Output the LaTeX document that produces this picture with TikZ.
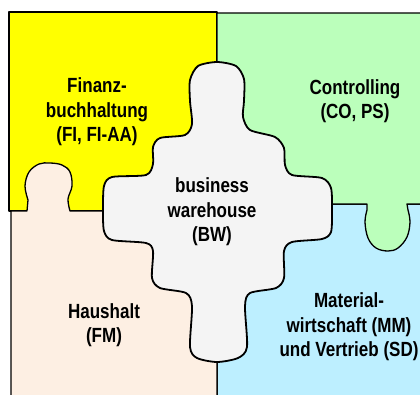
\documentclass[tikz,border=0pt]{standalone}
\usepackage{fontspec}
\newfontfamily\piecefont{Liberation Sans Bold}[FakeStretch=0.83]
\usepackage{tikz}
\definecolor{fibg}{RGB}{255,255,0}
\definecolor{cobg}{RGB}{187,255,187}
\definecolor{fmbg}{RGB}{253,239,227}
\definecolor{mmbg}{RGB}{189,239,255}
\definecolor{bwbg}{RGB}{244,244,244}
\tikzstyle{piece}=[draw=black, line width=1.3pt, line join=round]
\tikzstyle{bwpiece}=[draw=black, line width=1.8pt, fill=bwbg, line join=round]
\tikzstyle{modtext}=[align=center, text=black, inner sep=0pt,
  font=\piecefont\fontsize{20.5}{24.5}\selectfont]

\begin{document}
\begin{tikzpicture}[x=1pt, y=-1pt]
		   \useasboundingbox (0,0) rectangle (420,394);
		   \clip (0,0) rectangle (420,394);
		   \begin{scope}
			   % the four module pieces
			   \path[piece, fill=fibg] (9,12) rectangle (217,211);
			   \path[piece, fill=mmbg] (217,204) rectangle (440,420);
			   \path[piece, fill=fmbg] (11,420) -- (11,211) -- (27,211)
			     -- plot[smooth, tension=0.6] coordinates {(28,200) (25,186) (29,172) (39,164) (50,163) (62,165) (70,172) (72,186) (68,199) (70,211)}
			     -- (217,211) -- (217,420);
			   \path[piece, fill=cobg] (217,13) -- (440,13) -- (440,204) -- (407,204)
			     -- plot[smooth, tension=0.6] coordinates {(408,210) (410,222) (407,237) (398,248) (388,251) (376,248) (368,238) (365,222) (367,210)}
			     -- (367,204) -- (217,204) -- cycle;
			   % business warehouse in the middle
			   \path[bwpiece] plot[smooth cycle, tension=0.45] coordinates {
			     (217,62) (236,66) (244,79) (244,101) (243,117) (250,130) (275,137)
			     (284,148) (285,165) (292,175) (322,178) (331,188) (332,210)
			     (331,232) (322,239) (292,242) (284,251) (284,278) (276,288)
			     (250,293) (245,306) (247,347) (238,358) (217,362) (197,358)
			     (190,347) (192,306) (186,293) (160,288) (152,278) (153,251)
			     (146,243) (112,240) (104,231) (103,210) (104,186) (112,177)
			     (146,175) (153,164) (153,147) (160,138) (185,135) (192,124)
			     (190,101) (190,80) (198,66)};
		   \end{scope}
		   \begin{scope}
			   \node[modtext] (fi) at (97,112) {Finanz-\\buchhaltung\\(FI, FI-AA)};
			   \node[modtext] (co) at (355,101) {Controlling\\(CO, PS)};
			   \node[modtext] (bw) at (212,212) {business\\warehouse\\(BW)};
			   \node[modtext] (fm) at (104,325) {Haushalt\\(FM)};
			   \node[modtext] (mm) at (349,327) {Material-\\wirtschaft (MM)\\und Vertrieb (SD)};
		   \end{scope}
	   \end{tikzpicture}
\end{document}
